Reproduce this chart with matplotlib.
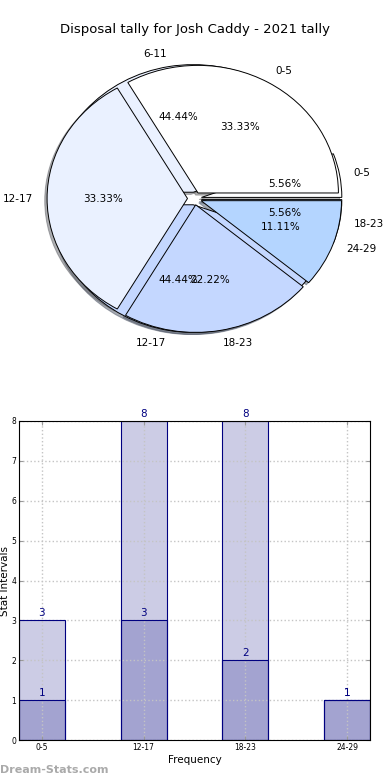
import matplotlib
matplotlib.use("Agg")
import matplotlib.pyplot as plt
import numpy as np

# данные круговых диаграмм
pie_back_labels = ["0-5", "6-11", "12-17", "18-23"]
pie_back_values = [1, 8, 8, 1]
pie_front_labels = ["0-5", "12-17", "18-23", "24-29"]
pie_front_values = [3, 3, 2, 1]
pie_colors = ["#FFFFFF", "#EAF1FF", "#C4D7FF", "#B4D5FF"]

# данные столбцов
bar_labels = ["0-5", "12-17", "18-23", "24-29"]
bar_total = [3, 8, 8, 1]
bar_part = [1, 3, 2, 1]

fig = plt.figure(figsize=(3.9, 7.8), dpi=100)

# верхняя часть - две наложенные круговые диаграммы
ax1 = fig.add_axes([19 / 390, 1 - 358 / 780, 351 / 390, 319 / 780])
for vals, labs in [(pie_back_values, pie_back_labels), (pie_front_values, pie_front_labels)]:
    ax1.pie(vals, labels=labs, colors=pie_colors, autopct="%1.2f%%",
            explode=[0.05] * len(vals),
            shadow={"ox": -0.012, "oy": -0.012, "shade": 0.6}, startangle=0,
            wedgeprops={"edgecolor": "black", "linewidth": 0.7},
            textprops={"fontsize": 7.5})
ax1.set_aspect("auto")
ax1.set_xlim(-1.25, 1.25)
ax1.set_ylim(-1.25, 1.25)
fig.text(0.5, 1 - 30 / 780, "Disposal tally for Josh Caddy - 2021 tally",
         ha="center", va="center", fontsize=9.5)

# нижняя часть - столбцы
ax2 = fig.add_axes([19 / 390, 40 / 780, 351 / 390, 319 / 780])
x = np.arange(len(bar_labels))
ax2.bar(x, bar_total, width=0.45, color="navy", alpha=0.2, zorder=1)
ax2.bar(x, bar_total, width=0.45, fill=False, edgecolor="navy", linewidth=0.8, zorder=3)
ax2.bar(x, bar_part, width=0.45, color="navy", alpha=0.2, zorder=1)
ax2.bar(x, bar_part, width=0.45, fill=False, edgecolor="navy", linewidth=0.8, zorder=3)
for xi, v in zip(x, bar_total):
    ax2.text(xi, v + 0.05, str(v), ha="center", va="bottom", color="navy", fontsize=7.5, zorder=4)
for xi, v in zip(x, bar_part):
    ax2.text(xi, v + 0.05, str(v), ha="center", va="bottom", color="navy", fontsize=7.5, zorder=4)
ax2.set_xlim(-0.225, len(bar_labels) - 1 + 0.225)
ax2.set_ylim(0, 8)
ax2.set_xticks(x)
ax2.set_xticklabels(bar_labels)
ax2.set_yticks(range(0, 9))
ax2.tick_params(labelsize=5.5, direction="in", color="#999999", length=3,
                top=True, right=True, pad=2)
ax2.grid(True, linestyle=":", color="#C4C4C4", linewidth=1, zorder=2)
ax2.set_axisbelow(False)
for sp in ax2.spines.values():
    sp.set_zorder(5)
ax2.set_xlabel("Frequency", fontsize=7.5, labelpad=2)
ax2.set_ylabel("Stat Intervals", fontsize=7.5, labelpad=1)

fig.text(0.0, 1 - 770 / 780, "Dream-Stats.com", ha="left", va="center",
         fontsize=8, color="#AAAAAA", fontweight="bold")

plt.savefig("out.png", dpi=100)
